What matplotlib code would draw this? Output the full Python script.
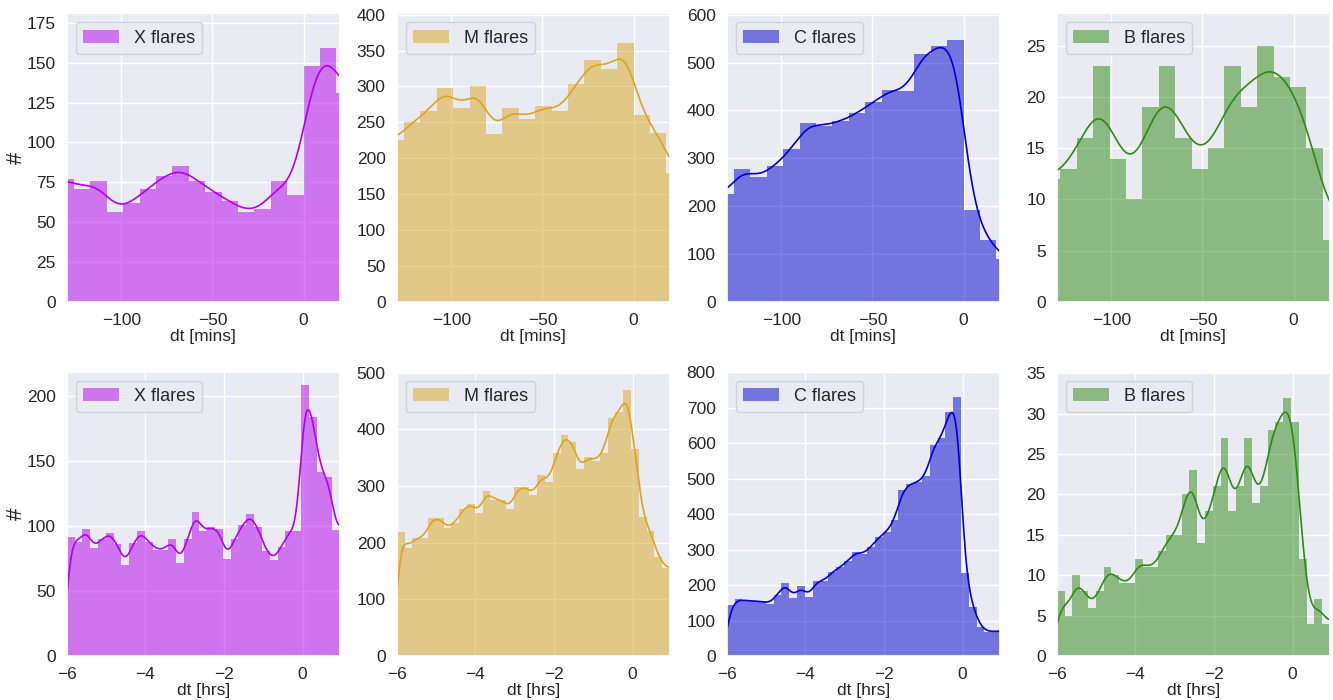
import numpy as np
import matplotlib
matplotlib.use("Agg")
import matplotlib.pyplot as plt
from matplotlib.colors import to_rgba
from matplotlib.ticker import MultipleLocator
import seaborn as sns

sns.set_theme(style="darkgrid")
plt.rcParams["font.family"] = ["Liberation Sans", "DejaVu Sans"]

# ---------------- data (counts per bin) ----------------
classes = ["X", "M", "C", "B"]
labels = ["X flares", "M flares", "C flares", "B flares"]
colors = ["#B400EC", "#DAA520", "#0000CD", "#2E8A14"]

# top row: dt in minutes, 9-minute bins
mins_bin_width = 9
mins_first_edge = [-135, -135, -135, -137]
x_mins = [77, 71, 76, 56, 62, 71, 79, 85, 76, 69, 63, 56, 58, 76, 67, 148, 159, 131]
m_mins = [226, 250, 266, 298, 270, 300, 234, 270, 255, 273, 266, 303, 337, 324, 360, 260, 235, 180]
c_mins = [225, 278, 260, 284, 319, 373, 368, 377, 394, 417, 443, 440, 518, 534, 548, 192, 129, 89]
b_mins = [12, 13, 16, 23, 14, 10, 19, 23, 16, 13, 15, 23, 19, 25, 22, 21, 15, 6]

# bottom row: dt in hours, 35 bins between -6 and 0.95
hrs_range = (-6.0, 0.95)
hrs_nbins = 35
x_hrs = [92, 88, 98, 83, 90, 95, 86, 70, 87, 96, 88, 82, 82, 90, 72, 90, 111, 96, 99, 98,
         75, 90, 101, 109, 99, 81, 74, 84, 96, 96, 209, 184, 142, 138, 97]
m_hrs = [219, 191, 209, 209, 243, 243, 226, 235, 260, 269, 253, 292, 276, 276, 260, 298, 298,
         285, 319, 308, 358, 390, 378, 330, 352, 345, 359, 421, 430, 470, 365, 245, 221, 175, 155]
c_hrs = [143, 160, 156, 155, 154, 148, 173, 207, 165, 197, 167, 212, 212, 237, 250, 268, 293,
         288, 308, 336, 350, 383, 467, 486, 490, 509, 594, 615, 688, 731, 233, 139, 82, 68, 70]
b_hrs = [8, 5, 10, 8, 6, 8, 11, 10, 9, 9, 12, 11, 11, 13, 15, 15, 20, 23, 14, 18, 21, 27, 18,
         21, 27, 19, 21, 28, 29, 32, 29, 12, 4, 7, 4]

top_counts = [x_mins, m_mins, c_mins, b_mins]
bot_counts = [x_hrs, m_hrs, c_hrs, b_hrs]

top_xlim = (-130, 20)
top_ylim = [181, 402, 603, 28.2]
bot_ylim = [219, 502, 802, 35.2]
top_ystep = [25, 50, 100, 5]
bot_ystep = [50, 100, 100, 5]
top_bw = [7.0, 6.0, 6.0, 9.0]
bot_bw = [0.13, 0.13, 0.13, 0.16]


def kde_line(edges, counts, bw, grid, reflect_lo=None, reflect_hi=None):
    edges = np.asarray(edges, float)
    counts = np.asarray(counts, float)
    centers = 0.5 * (edges[:-1] + edges[1:])
    width = np.mean(np.diff(edges))
    pts = [centers]
    wts = [counts]
    if reflect_lo is not None:
        pts.append(2 * reflect_lo - centers)
        wts.append(counts)
    if reflect_hi is not None:
        pts.append(2 * reflect_hi - centers)
        wts.append(counts)
    pts = np.concatenate(pts)
    wts = np.concatenate(wts)
    z = (grid[:, None] - pts[None, :]) / bw
    dens = np.exp(-0.5 * z ** 2) / (np.sqrt(2 * np.pi) * bw)
    return (dens * wts[None, :]).sum(axis=1) * width


W, H = 1333, 700
fig = plt.figure(figsize=(W / 100, H / 100), dpi=100)

col_left = [66.7, 396.7, 726.7, 1056.7]
ax_w = 273.3
rows = [(13.3, 301.7), (371.7, 656.0)]

fs = 12.5
for r, (top_px, bot_px) in enumerate(rows):
    for c in range(4):
        ax = fig.add_axes([col_left[c] / W, 1 - bot_px / H, ax_w / W, (bot_px - top_px) / H])
        color = colors[c]
        if r == 0:
            counts = top_counts[c]
            edges = mins_first_edge[c] + mins_bin_width * np.arange(len(counts) + 1)
            xlim = top_xlim
            ylim = top_ylim[c]
            ystep = top_ystep[c]
            bw = top_bw[c]
            grid = np.linspace(xlim[0], xlim[1], 500)
            kde = kde_line(edges, counts, bw, grid, reflect_lo=edges[0], reflect_hi=edges[-1])
            xticks = [-100, -50, 0]
            xlabel = "dt [mins]"
        else:
            counts = bot_counts[c]
            edges = np.linspace(hrs_range[0], hrs_range[1], hrs_nbins + 1)
            xlim = hrs_range
            ylim = bot_ylim[c]
            ystep = bot_ystep[c]
            bw = bot_bw[c]
            grid = np.linspace(xlim[0], xlim[1], 500)
            kde = kde_line(edges, counts, bw, grid, reflect_hi=edges[-1])
            xticks = [-6, -4, -2, 0]
            xlabel = "dt [hrs]"

        bars = ax.bar(edges[:-1], counts, width=np.diff(edges), align="edge",
                      facecolor=to_rgba(color, 0.5), edgecolor="none", linewidth=0,
                      label=labels[c])
        ax.plot(grid, kde, color=color, lw=1.2)
        ax.set_xlim(*xlim)
        ax.set_ylim(0, ylim)
        ax.set_xticks(xticks)
        ax.yaxis.set_major_locator(MultipleLocator(ystep))
        ax.tick_params(labelsize=fs, pad=2)
        ax.set_xlabel(xlabel, fontsize=fs, labelpad=1)
        if c == 0:
            ax.set_ylabel("#", fontsize=16, labelpad=0)
        ax.legend(handles=[bars], loc="upper left", fontsize=13)

fig.savefig("out.png", dpi=100)
